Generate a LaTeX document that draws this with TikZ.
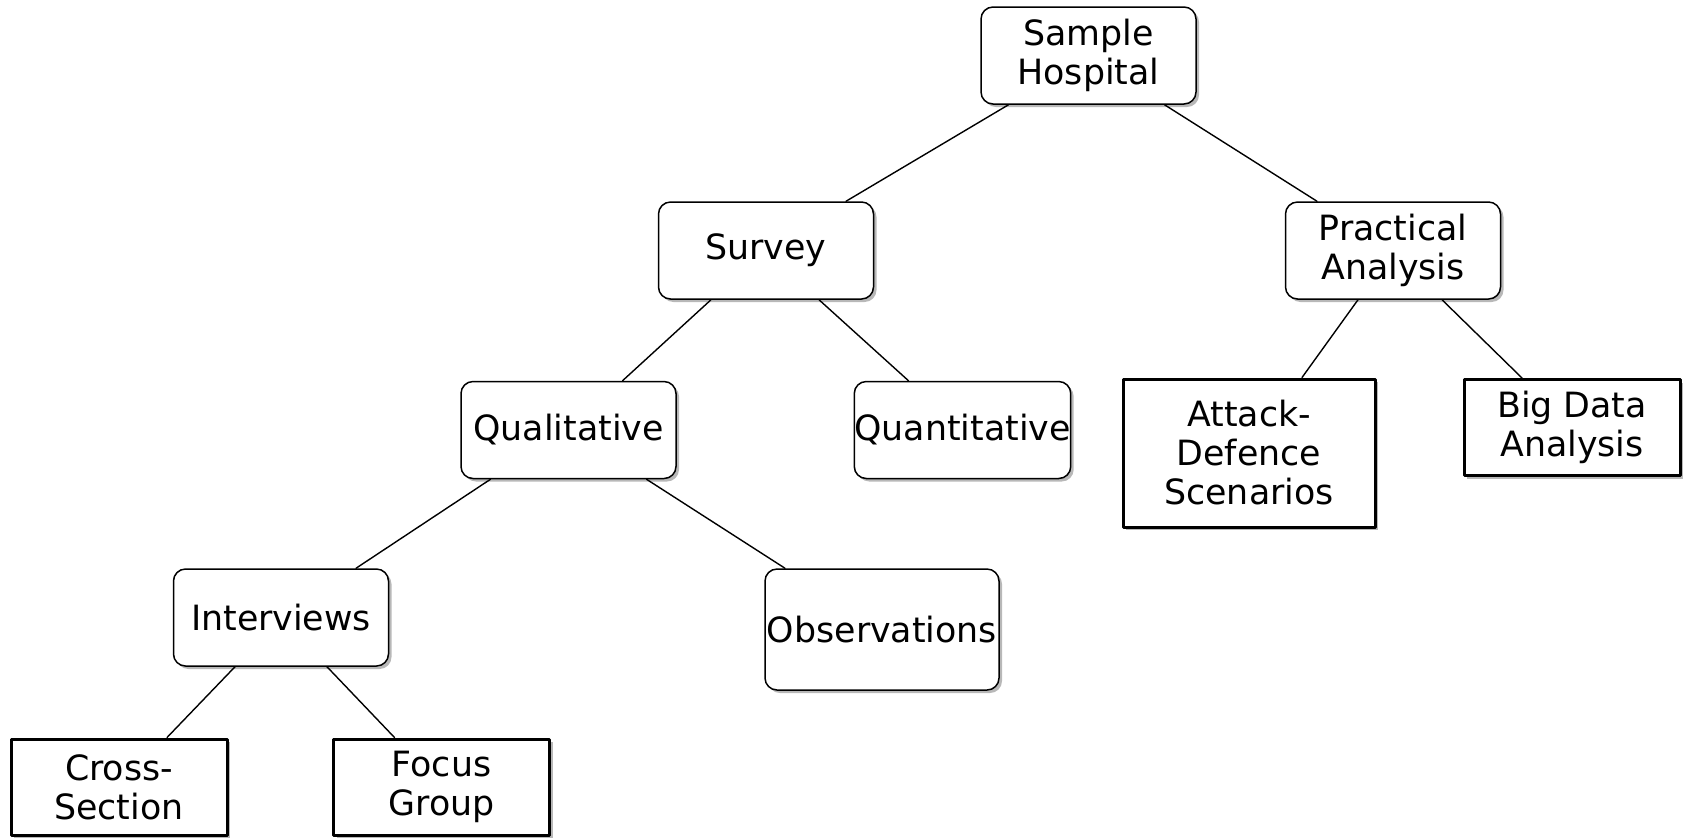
\documentclass[tikz,border=0pt]{standalone}
\usepackage{fontspec}
\setmainfont{DejaVu Sans}
\usetikzlibrary{shadows}

\begin{document}
\begin{tikzpicture}[
    x=0.5pt, y=-0.5pt,
    font=\fontsize{17.4}{19.5}\selectfont,
    line cap=round,
    line join=round,
    box/.style={draw, align=center, inner sep=0pt, fill=white,
        drop shadow={shadow xshift=1.5pt, shadow yshift=-1.5pt, fill=gray!70, opacity=0.8}},
    branch/.style={box, rounded corners=6pt, line width=0.75pt, minimum width=107.5pt, minimum height=48.5pt},
    leaf/.style={box, line width=1.5pt, minimum width=108pt, minimum height=48pt},
    link/.style={draw, line width=0.7pt}
]
\useasboundingbox (0,0) rectangle (1690,837);

% ------------------------
% Top levels
% ------------------------
\node[branch] (hosp) at (1088.5,55.5) {Sample\\Hospital};
\node[branch] (survey) at (766,250.5) {Survey};
\node[branch] (pract) at (1393,250.5) {Practical\\Analysis};

% ------------------------
% Survey branch
% ------------------------
\node[branch] (qual) at (568.5,430) {Qualitative};
\node[branch] (quant) at (962.5,430) {Quantitative};
\node[branch] (interv) at (281,617.5) {Interviews};
\node[branch, minimum width=117pt, minimum height=60.5pt] (obs) at (882,629.5) {Observations};
\node[leaf] (cross) at (119,787) {Cross-\\Section};
\node[leaf] (focus) at (441.5,787) {Focus\\Group};

% ------------------------
% Practical branch
% ------------------------
\node[leaf, minimum width=126pt, minimum height=74pt] (attack) at (1249,453) {Attack-\\Defence\\Scenarios};
\node[leaf] (bigdata) at (1572,427.5) {Big Data\\Analysis};

% ------------------------
% Links
% ------------------------
\draw[link] ([xshift=-40pt]hosp.south) -- ([xshift=40pt]survey.north);
\draw[link] ([xshift=38pt]hosp.south) -- ([xshift=-38pt]pract.north);
\draw[link] ([xshift=-27.5pt]survey.south) -- ([xshift=27pt]qual.north);
\draw[link] ([xshift=26.5pt]survey.south) -- ([xshift=-27pt]quant.north);
\draw[link] ([xshift=-39pt]qual.south) -- ([xshift=37.5pt]interv.north);
\draw[link] ([xshift=39pt]qual.south) -- ([xshift=-48.5pt]obs.north);
\draw[link] ([xshift=-23pt]interv.south) -- ([xshift=24pt]cross.north);
\draw[link] ([xshift=23pt]interv.south) -- ([xshift=-23.5pt]focus.north);
\draw[link] ([xshift=-17.5pt]pract.south) -- ([xshift=26.5pt]attack.north);
\draw[link] ([xshift=24.5pt]pract.south) -- ([xshift=-25pt]bigdata.north);

\end{tikzpicture}
\end{document}
